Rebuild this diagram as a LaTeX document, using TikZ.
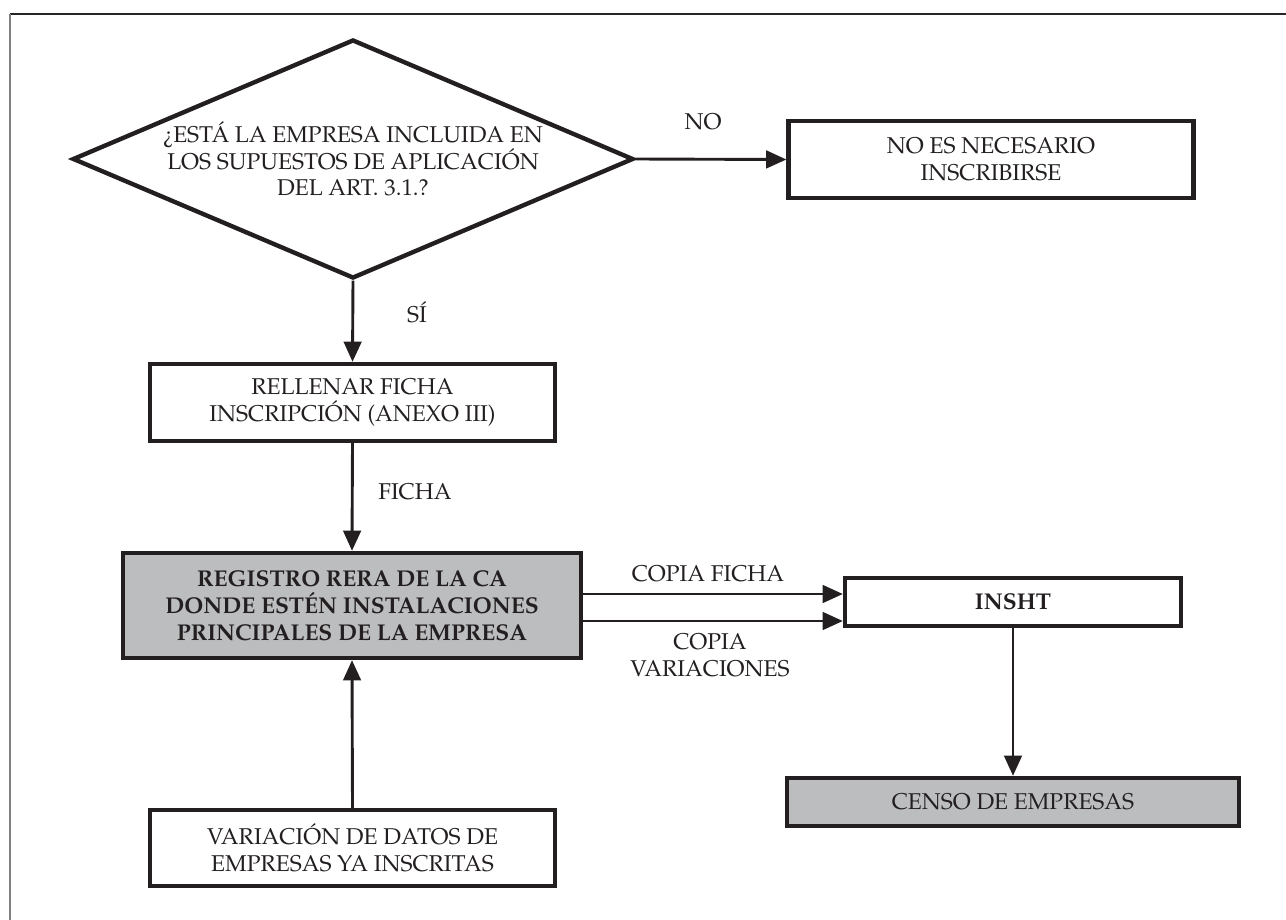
\documentclass[tikz,border=0pt]{standalone}
\usepackage[T1]{fontenc}
\usepackage{mathpazo}
\usepackage{tikz}
\usetikzlibrary{arrows.meta}
\usetikzlibrary{shapes.geometric}
\definecolor{inkdark}{RGB}{35,31,32}
\definecolor{boxgray}{RGB}{188,189,191}
\newcommand{\flowarrow}{\draw[inkdark, line width=1.65pt, -{Triangle[length=11.5pt, width=10pt]}]}
\tikzset{
    flowbox/.style={draw=inkdark, line width=2.5pt, fill=white, text=inkdark, align=center,
        inner sep=0pt, font=\fontsize{13}{15.2}\selectfont},
    graybox/.style={flowbox, fill=boxgray},
    flowlabel/.style={text=inkdark, align=center, inner sep=0pt, font=\fontsize{13}{15.2}\selectfont}
}

\begin{document}
\begin{tikzpicture}[x=0.02cm, y=-0.02cm]
    \useasboundingbox (0,0) rectangle (1286,920);

    % Draw frame
    \draw[black!85, line width=0.8pt] (10,14) -- (1286,14);
    \draw[black!50, line width=0.8pt] (10,14) -- (10,920);

    % Draw boxes
    \node[flowbox, diamond, aspect=2.35, minimum width=11.22cm, minimum height=4.78cm] (pregunta) at (353,159)
        {\textquestiondown EST\'A LA EMPRESA INCLUIDA EN\\LOS SUPUESTOS DE APLICACI\'ON\\DEL ART. 3.1.?};
    \node[flowbox, minimum width=8.1cm, minimum height=1.54cm] (noinscr) at (991,159.5)
        {NO ES NECESARIO\\INSCRIBIRSE};
    \node[flowbox, minimum width=8.1cm, minimum height=1.54cm] (ficha) at (352.5,402.5)
        {RELLENAR FICHA\\INSCRIPCI\'ON (ANEXO III)};
    \node[graybox, minimum width=9.16cm, minimum height=2.1cm, font=\fontsize{13}{15.2}\selectfont\bfseries] (registro) at (352,605.5)
        {REGISTRO RERA DE LA CA\\DONDE EST\'EN INSTALACIONES\\PRINCIPALES DE LA EMPRESA};
    \node[flowbox, minimum width=6.72cm, minimum height=0.96cm, font=\fontsize{13}{15.2}\selectfont\bfseries] (insht) at (1013,602)
        {INSHT};
    \node[graybox, minimum width=9.04cm, minimum height=0.96cm] (censo) at (1013,802)
        {CENSO DE EMPRESAS};
    \node[flowbox, minimum width=8.1cm, minimum height=1.52cm] (variacion) at (352.5,848)
        {VARIACI\'ON DE DATOS DE\\EMPRESAS YA INSCRITAS};

    % Draw connectors
    \flowarrow (pregunta.east) -- (noinscr.west);
    \flowarrow (pregunta.south) -- (ficha.north);
    \flowarrow (ficha.south) -- (registro.north);
    \flowarrow (variacion.north) -- (registro.south);
    \flowarrow ([yshift=0.23cm]registro.east) -- ([yshift=0.23cm]registro.east -| insht.west);
    \flowarrow ([yshift=-0.31cm]registro.east) -- ([yshift=-0.31cm]registro.east -| insht.west);
    \flowarrow (insht.south) -- (censo.north);

    % Draw labels
    \node[flowlabel] (lblno) at (703,122) {NO};
    \node[flowlabel] (lblsi) at (417,312) {S\'I};
    \node[flowlabel] (lblficha) at (415,492) {FICHA};
    \node[flowlabel] (lblcopia) at (708,574) {COPIA FICHA};
    \node[flowlabel] (lblvariac) at (710,655) {COPIA\\VARIACIONES};
\end{tikzpicture}
\end{document}
